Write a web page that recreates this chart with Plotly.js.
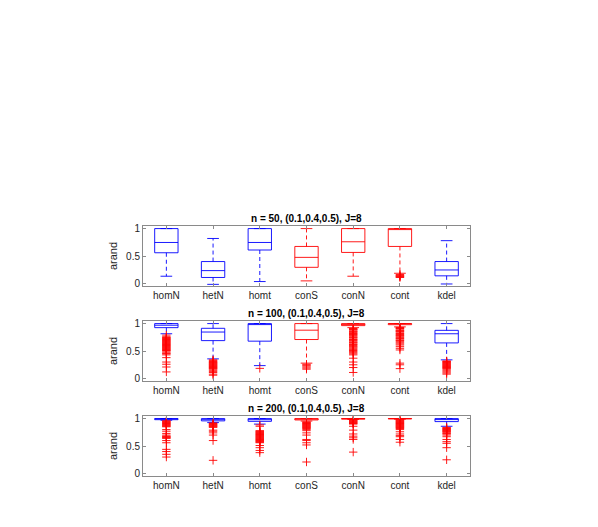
<!DOCTYPE html>
<html>
<head>
<meta charset="utf-8">
<script src="https://cdn.plot.ly/plotly-3.0.1.min.js"></script>
<style>html,body{margin:0;padding:0;background:#fff;}#chart{width:598px;height:527px;}</style>
</head>
<body>
<div id="chart"></div>
<script>
// ---------- DATA ----------
const categories = ['homN','hetN','homt','conS','conN','cont','kdel'];
const panelTitles = ['n = 50, (0.1,0.4,0.5), J=8','n = 100, (0.1,0.4,0.5), J=8','n = 200, (0.1,0.4,0.5), J=8'];
const yTickVals = [0, 0.5, 1];
const yTickText = ['0', '0.5', '1'];

// n = 50
const q1_50  = [0.56, 0.11, 0.61, 0.295, 0.566, 0.675, 0.14];
const med_50 = [0.747, 0.235, 0.747, 0.476, 0.76, 1.0, 0.247];
const q3_50  = [1.0, 0.40, 1.0, 0.675, 1.0, 1.0, 0.40];
const lo_50  = [0.133, -0.015, 0.036, 0.048, 0.133, 0.187, -0.008];
const hi_50  = [1.0, 0.82, 1.0, 1.0, 1.0, 1.0, 0.78];
const out_50 = [[], [], [], [], [], [0.165, 0.15, 0.14, 0.13, 0.12, 0.11], []];

// n = 100
const q1_100  = [0.926, 0.69, 0.68, 0.71, 0.963, 0.98, 0.648];
const med_100 = [0.97, 0.846, 1.0, 0.88, 0.99, 1.0, 0.815];
const q3_100  = [1.0, 0.914, 1.0, 1.0, 1.0, 1.0, 0.877];
const lo_100  = [0.815, 0.358, 0.235, 0.28, 0.926, 0.94, 0.34];
const hi_100  = [1.0, 1.0, 1.0, 1.0, 1.0, 1.0, 1.0];
const out_100 = [
  [0.79,0.76,0.75,0.74,0.73,0.72,0.71,0.70,0.69,0.68,0.67,0.66,0.65,0.64,0.63,0.62,0.61,0.60,0.59,0.58,0.57,0.56,0.55,0.54,0.53,0.52,0.51,0.50,0.48,0.46,0.45,0.43,0.38,0.30,0.26,0.21,0.12],
  [0.34,0.33,0.31,0.30,0.29,0.28,0.27,0.26,0.25,0.24,0.23,0.22,0.21,0.20,0.19,0.18,0.17,0.15,0.13,0.11,0.08,0.06],
  [0.185],
  [0.26,0.245,0.23,0.21,0.19,0.17],
  [0.91,0.90,0.89,0.88,0.86,0.85,0.84,0.82,0.81,0.80,0.78,0.77,0.75,0.74,0.72,0.71,0.69,0.68,0.66,0.65,0.63,0.62,0.60,0.58,0.57,0.55,0.53,0.51,0.49,0.47,0.45,0.43,0.37,0.30,0.25,0.20,0.11],
  [0.93,0.92,0.91,0.90,0.88,0.87,0.86,0.85,0.83,0.82,0.80,0.79,0.78,0.76,0.75,0.73,0.72,0.70,0.69,0.67,0.65,0.63,0.61,0.58,0.55,0.52,0.28,0.25,0.18],
  [0.32,0.31,0.30,0.29,0.28,0.27,0.26,0.25,0.24,0.23,0.22,0.21,0.20,0.19,0.18,0.16,0.14,0.12,0.10,0.08]
];

// n = 200
const q1_200  = [0.98, 0.958, 0.95, 0.975, 0.99, 0.995, 0.945];
const med_200 = [0.995, 0.98, 0.98, 0.99, 1.0, 1.0, 0.99];
const q3_200  = [1.0, 1.0, 1.0, 1.0, 1.0, 1.0, 1.0];
const lo_200  = [0.97, 0.927, 0.90, 0.955, 0.985, 0.99, 0.86];
const hi_200  = [1.0, 1.0, 1.0, 1.0, 1.0, 1.0, 1.0];
const out_200 = [
  [0.96,0.95,0.94,0.93,0.92,0.91,0.90,0.89,0.88,0.87,0.86,0.85,0.80,0.77,0.73,0.70,0.68,0.67,0.66,0.65,0.64,0.60,0.56,0.44,0.40,0.35,0.30],
  [0.92,0.91,0.90,0.89,0.88,0.87,0.86,0.85,0.84,0.79,0.77,0.74,0.70,0.60,0.24],
  [0.885,0.86,0.78,0.77,0.76,0.75,0.74,0.73,0.72,0.71,0.70,0.69,0.68,0.67,0.66,0.65,0.64,0.63,0.62,0.61,0.60,0.59,0.58,0.57,0.56,0.51,0.47,0.42,0.38],
  [0.94,0.93,0.92,0.91,0.90,0.89,0.88,0.87,0.86,0.85,0.84,0.83,0.82,0.80,0.78,0.74,0.70,0.62,0.60,0.56,0.52,0.21],
  [0.98,0.97,0.96,0.95,0.94,0.93,0.92,0.91,0.90,0.86,0.79,0.72,0.68,0.65,0.62,0.39],
  [0.98,0.97,0.96,0.95,0.94,0.93,0.92,0.91,0.90,0.89,0.88,0.87,0.86,0.85,0.84,0.83,0.82,0.80,0.76,0.72,0.69,0.67,0.62,0.57],
  [0.84,0.83,0.82,0.81,0.80,0.79,0.78,0.77,0.76,0.75,0.73,0.72,0.70,0.67,0.62,0.58,0.55,0.47,0.25]
];

// ---------- STYLE ----------
const BLUE = '#0000ff', RED = '#ff0000';
const boxColor = [BLUE, BLUE, BLUE, RED, RED, RED, BLUE];
const BOXW = 0.5, CAPHALF = 0.125;
const FONT = 'Liberation Sans, Arial, Helvetica, sans-serif';
const TXT = '#262626', FRAME = '#8a8a8a';

const panels = [
  {q1:q1_50, med:med_50, q3:q3_50, lo:lo_50, hi:hi_50, out:out_50},
  {q1:q1_100, med:med_100, q3:q3_100, lo:lo_100, hi:hi_100, out:out_100},
  {q1:q1_200, med:med_200, q3:q3_200, lo:lo_200, hi:hi_200, out:out_200}
];

const xDom = [143/598, 470/598];
const yDoms = [[1-286/527, 1-226/527], [1-381/527, 1-321/527], [1-476/527, 1-416/527]];

const traces = [];
const layout = {
  width: 598, height: 527,
  margin: {l:0, r:0, t:0, b:0},
  paper_bgcolor: '#fff', plot_bgcolor: '#fff',
  showlegend: false, boxmode: 'overlay',
  font: {family: FONT, size: 10, color: TXT},
  annotations: []
};

panels.forEach((P, p) => {
  const xa = p === 0 ? 'x' : 'x' + (p+1);
  const ya = p === 0 ? 'y' : 'y' + (p+1);
  [BLUE, RED].forEach(col => {
    const idx = categories.map((c,i)=>i).filter(i => boxColor[i] === col);
    if (!idx.length) return;
    // whiskers (dashed)
    const wx = [], wy = [];
    idx.forEach(i => {
      const xc = i + 1;
      wx.push(xc, xc, null, xc, xc, null);
      wy.push(P.q3[i], P.hi[i], null, P.q1[i], P.lo[i], null);
    });
    traces.push({type:'scatter', mode:'lines', x:wx, y:wy, xaxis:xa, yaxis:ya,
      line:{color:col, width:0.9, dash:'4px,3px'}, hoverinfo:'skip'});
    // caps
    const cx = [], cy = [];
    idx.forEach(i => {
      const xc = i + 1;
      cx.push(xc-CAPHALF, xc+CAPHALF, null, xc-CAPHALF, xc+CAPHALF, null);
      cy.push(P.hi[i], P.hi[i], null, P.lo[i], P.lo[i], null);
    });
    traces.push({type:'scatter', mode:'lines', x:cx, y:cy, xaxis:xa, yaxis:ya,
      line:{color:col, width:0.9}, hoverinfo:'skip'});
    // boxes + medians
    traces.push({type:'box', xaxis:xa, yaxis:ya,
      x: idx.map(i => i + 1),
      q1: idx.map(i => P.q1[i]),
      median: idx.map(i => P.med[i]),
      q3: idx.map(i => P.q3[i]),
      lowerfence: idx.map(i => P.q1[i]),
      upperfence: idx.map(i => P.q3[i]),
      width: BOXW, whiskerwidth: 0, boxpoints: false,
      line:{color:col, width:0.9}, fillcolor:'rgba(0,0,0,0)'});
  });
  // outliers
  const ox = [], oy = [];
  P.out.forEach((arr, i) => arr.forEach(v => { ox.push(i + 1); oy.push(v); }));
  traces.push({type:'scatter', mode:'markers', x:ox, y:oy, xaxis:xa, yaxis:ya,
    marker:{symbol:'cross-thin-open', size:6, color:RED, line:{color:RED, width:0.9}}});

  const xk = p === 0 ? 'xaxis' : 'xaxis' + (p+1);
  const yk = p === 0 ? 'yaxis' : 'yaxis' + (p+1);
  layout[xk] = {domain:xDom, anchor:ya, range:[0.5, 7.5],
    tickvals: categories.map((c,i)=>i+1), ticktext: categories,
    ticks:'inside', ticklen:3, tickcolor:FRAME, tickwidth:1,
    showline:true, linecolor:FRAME, linewidth:1, mirror:'ticks',
    showgrid:false, zeroline:false, tickfont:{family:FONT, size:10, color:TXT}};
  layout[yk] = {domain:yDoms[p], anchor:xa, range:[-0.045, 1.047],
    tickvals: yTickVals, ticktext: yTickText,
    ticks:'inside', ticklen:3, tickcolor:FRAME, tickwidth:1,
    showline:true, linecolor:FRAME, linewidth:1, mirror:'ticks',
    showgrid:false, zeroline:false, tickfont:{family:FONT, size:10, color:TXT},
    title:{text:'arand', font:{family:FONT, size:11, color:TXT}, standoff:6}};
  layout.annotations.push({text:'<b>' + panelTitles[p] + '</b>', xref:'paper', yref:'paper',
    x:(xDom[0]+xDom[1])/2, y:yDoms[p][1], xanchor:'center', yanchor:'bottom', yshift:0,
    showarrow:false, font:{family:FONT, size:10, color:'#000'}});
});

Plotly.newPlot('chart', traces, layout, {displayModeBar:false, staticPlot:true});
</script>
</body>
</html>
